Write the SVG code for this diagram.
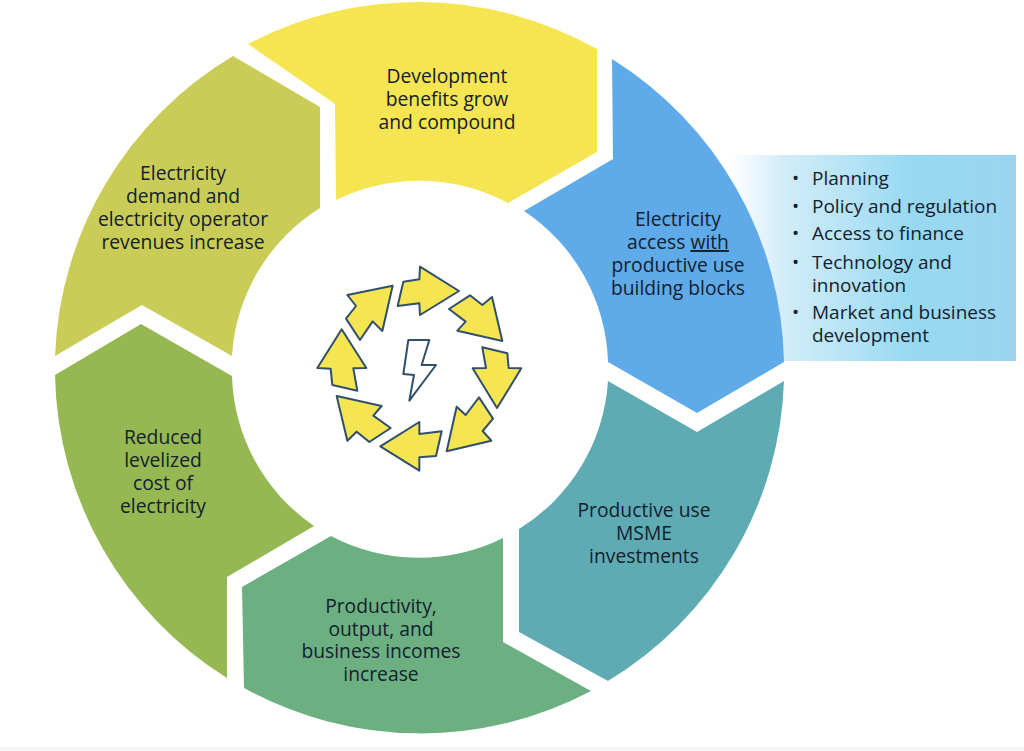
<svg xmlns="http://www.w3.org/2000/svg" width="1024" height="751" viewBox="0 0 1024 751">
<style>
text{font-family:"Open Sans","Noto Sans","Liberation Sans",sans-serif;font-size:19px;fill:#14202e}
.c{text-anchor:middle;font-size:19.3px}
.a{fill:#f5e552;stroke:#2f4f6b;stroke-width:6;stroke-linejoin:round}
</style>
<defs>
<linearGradient id="g" x1="0" x2="1" y1="0" y2="0">
<stop offset="0" stop-color="#fff"/>
<stop offset="0.19" stop-color="#d2ecf9"/>
<stop offset="0.42" stop-color="#b5e3f5"/>
<stop offset="0.63" stop-color="#97d9f1"/>
<stop offset="1" stop-color="#9cd4f0"/>
</linearGradient>
</defs>
<rect width="1024" height="751" fill="#fff"/>
<rect y="747" width="1024" height="4" fill="#f6f6f6"/>
<g id="panel">
<rect x="730" y="155" width="286" height="206" fill="url(#g)"/>
<text x="792" y="185">•</text><text x="812" y="185">Planning</text>
<text x="792" y="213">•</text><text x="812" y="213">Policy and regulation</text>
<text x="792" y="240">•</text><text x="812" y="240">Access to finance</text>
<text x="792" y="269">•</text><text x="812" y="269">Technology and</text>
<text x="812" y="292">innovation</text>
<text x="792" y="319">•</text><text x="812" y="319">Market and business</text>
<text x="812" y="342">development</text>
</g>
<g id="node-development">
<path fill="#f5e552" d="M248,44A365,365 0 0 1 597,49L597,152L508,203A188,188 0 0 0 336,200L335,104Z"/>
<text class="c" x="447" y="83">Development</text><text class="c" x="447" y="106">benefits grow</text><text class="c" x="447" y="129">and compound</text>
</g>
<g id="node-access">
<path fill="#5fabe9" d="M612,59L613,159L524,211A188,188 0 0 1 608,362L697,413L784,362A365,365 0 0 0 612,59Z"/>
<text class="c" x="678" y="226">Electricity</text><text class="c" x="678" y="249">access <tspan text-decoration="underline">with</tspan></text><text class="c" x="678" y="272">productive use</text><text class="c" x="678" y="295">building blocks</text>
</g>
<g id="node-msme">
<path fill="#5fabb4" d="M608,381L697,432L784,381A365,365 0 0 1 608,681L519,632L519,529A188,188 0 0 0 608,381Z"/>
<text class="c" x="644" y="517">Productive use</text><text class="c" x="644" y="540">MSME</text><text class="c" x="644" y="563">investments</text>
</g>
<g id="node-productivity">
<path fill="#6cb082" d="M331,536A188,188 0 0 0 503,538L503,642L591,691A365,365 0 0 1 244,688L242,587Z"/>
<text class="c" x="381" y="613">Productivity,</text><text class="c" x="381" y="636">output, and</text><text class="c" x="381" y="658">business incomes</text><text class="c" x="381" y="681">increase</text>
</g>
<g id="node-cost">
<path fill="#96b852" d="M314,526L227,577L227,678A365,365 0 0 1 55,375L141,324L232,376A188,188 0 0 0 314,526Z"/>
<text class="c" x="163" y="444">Reduced</text><text class="c" x="163" y="467">levelized</text><text class="c" x="163" y="490">cost of</text><text class="c" x="163" y="513">electricity</text>
</g>
<g id="node-demand">
<path fill="#c9cd57" d="M55,356A365,365 0 0 1 233,56L320,107L320,208A188,188 0 0 0 232,356L142,305Z"/>
<text class="c" x="183" y="180">Electricity</text><text class="c" x="183" y="203">demand and</text><text class="c" x="183" y="226">electricity operator</text><text class="c" x="183" y="249">revenues increase</text>
</g>
<g id="node-center" transform="translate(300,250) scale(.33333)">
<polygon class="a" points="293,168 310,95 358,88 360,50 477,123 360,195 358,160"/>
<polygon class="a" points="447,177 510,136 547,165 576,141 607,273 472,242 497,215"/>
<polygon class="a" points="547,292 622,310 626,354 664,355 591,474 518,355 558,354"/>
<polygon class="a" points="537,442 579,506 548,543 574,572 440,604 470,470 497,495"/>
<polygon class="a" points="425,544 408,618 358,622 358,662 241,589 358,516 358,552"/>
<polygon class="a" points="272,534 208,576 170,545 142,572 110,438 245,468 220,497"/>
<polygon class="a" points="172,422 97,405 92,356 52,354 125,238 199,354 160,355"/>
<polygon class="a" points="180,270 138,206 168,168 142,135 278,107 247,243 218,214"/>
<polygon fill="#fff" stroke="#2f4f6b" stroke-width="6" stroke-linejoin="round" points="325,270 388,270 365,345 408,345 328,452 342,375 310,372"/>
</g>
<g id="connectors"/>
</svg>
